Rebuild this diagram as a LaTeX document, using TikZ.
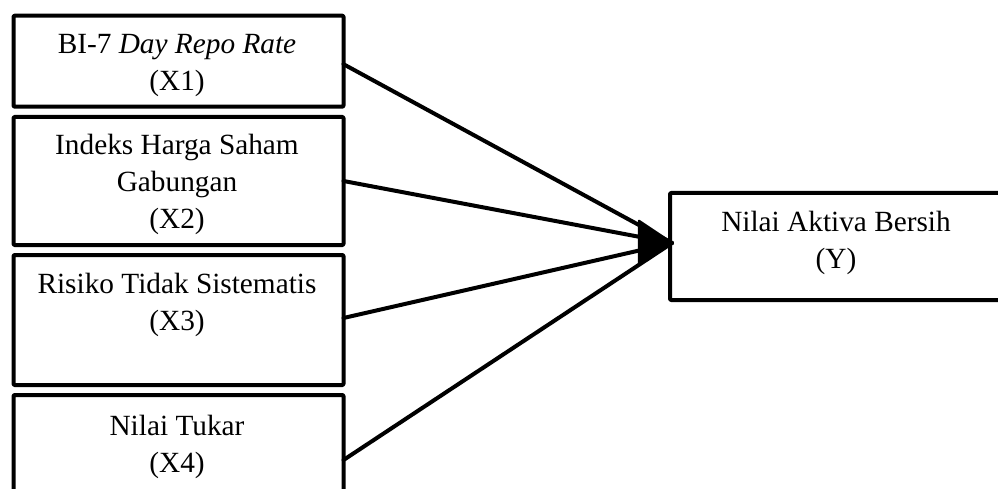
\documentclass[tikz,border=0pt]{standalone}
\usepackage{fontspec}
\setmainfont{Liberation Serif}
\begin{document}
\begin{tikzpicture}[x=1pt,y=-1pt,
  box/.style={draw, line width=4pt, line join=round, rounded corners=1pt, inner sep=0pt, outer sep=0pt},
  lbl/.style={anchor=base, inner sep=0pt, align=center, font=\fontsize{29.3}{37}\selectfont},
  link/.style={line width=4pt, line cap=round}]
\clip (0,0) rectangle (998,489);
% boxes
\node[box, minimum width=330pt, minimum height=91pt] (b1) at (178.5,61.2) {};
\node[box, minimum width=330pt, minimum height=128pt] (b2) at (178.5,181) {};
\node[box, minimum width=330pt, minimum height=130pt] (b3) at (178.5,320) {};
\node[box, minimum width=330pt, minimum height=120pt] (b4) at (178.5,455) {};
\node[box, minimum width=340pt, minimum height=107pt] (by) at (840,246.5) {};
% texts (anchored at the baseline of the last line)
\node[lbl] (t1) at (177,91) {BI-7 \textit{Day Repo Rate}\\(X1)};
\node[lbl] (t2) at (177,229) {Indeks Harga Saham\\Gabungan\\(X2)};
\node[lbl] (t3) at (177,330) {Risiko Tidak Sistematis\\(X3)};
\node[lbl] (t4) at (177,472) {Nilai Tukar\\(X4)};
\node[lbl] (ty) at (836,268) {Nilai Aktiva Bersih\\(Y)};
% connectors
\coordinate (tip) at ([xshift=2pt,yshift=3.5pt]by.west);
\draw[link] ([yshift=-3pt]b1.east) -- (tip);
\draw[link] (b2.east) -- (tip);
\draw[link] ([yshift=2pt]b3.east) -- (tip);
\draw[link] ([yshift=-5pt]b4.east) -- (tip);
\filldraw[line width=2.5pt, line join=round] (tip) -- ++(-33,-22) -- ++(0,44) -- cycle;
\end{tikzpicture}
\end{document}
